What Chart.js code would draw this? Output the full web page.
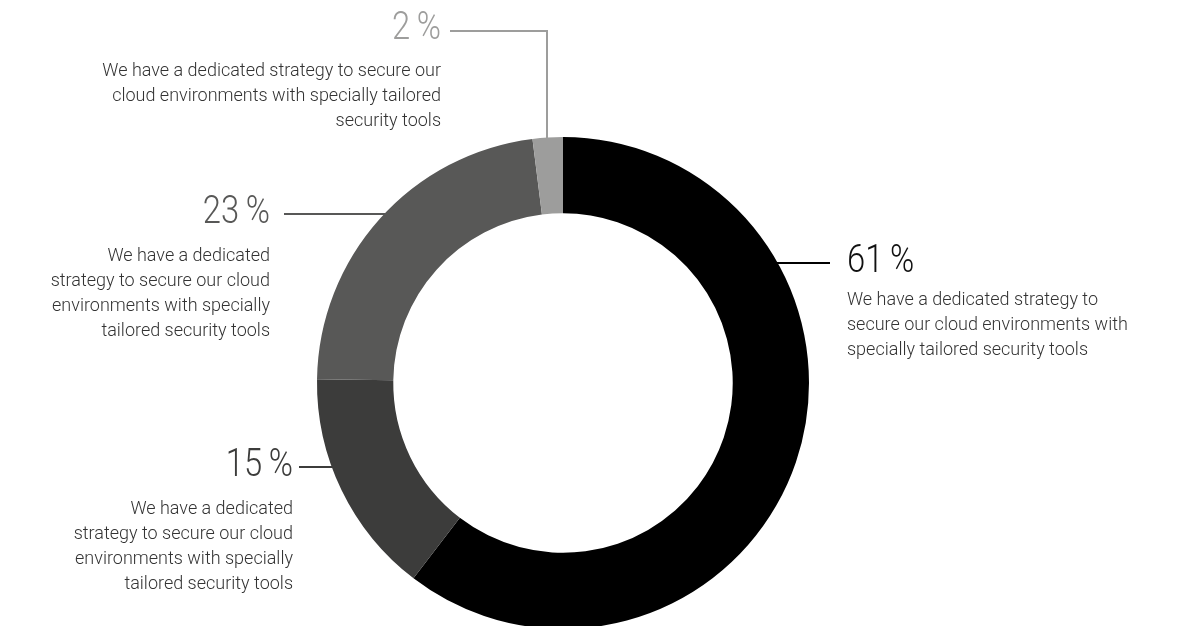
<!DOCTYPE html>
<html>
<head>
    <title>Cloud security strategy</title>
    <script src="https://cdn.jsdelivr.net/npm/chart.js"></script>
    <style>
        html, body { margin: 0; padding: 0; background: white; overflow: hidden; }
        #wrap { width: 1191px; height: 626px; overflow: hidden; }
        canvas { display: block; }
    </style>
</head>
<body>
    <div id="wrap">
        <canvas id="myChart" width="1191" height="660"></canvas>
    </div>

    <script>
        // Data (clockwise from 12 o'clock)
        const values = [61, 15, 23, 2];
        const descriptions = [
            ['We have a dedicated strategy to', 'secure our cloud environments with', 'specially tailored security tools'],
            ['We have a dedicated', 'strategy to secure our cloud', 'environments with specially', 'tailored security tools'],
            ['We have a dedicated', 'strategy to secure our cloud', 'environments with specially', 'tailored security tools'],
            ['We have a dedicated strategy to secure our', 'cloud environments with specially tailored', 'security tools']
        ];
        const colors = ['#000000', '#3c3c3b', '#585857', '#9d9d9c'];
        const pctColors = ['#111111', '#3c3c3b', '#585857', '#9d9d9c'];

        // Where each callout sits
        const callouts = [
            { align: 'left',  x: 847, pctY: 262, descY: 300, lineY: 263, lineEnd: 830 },
            { align: 'right', x: 293, pctY: 466, descY: 509, lineY: 467, lineEnd: 299 },
            { align: 'right', x: 270, pctY: 213, descY: 256, lineY: 214, lineEnd: 284 },
            { align: 'right', x: 441, pctY: 29,  descY: 71,  lineY: 31,  lineEnd: 450, dropX: 547 }
        ];

        const calloutPlugin = {
            id: 'callouts',
            afterDraw(chart) {
                const ctx = chart.ctx;
                const arcs = chart.getDatasetMeta(0).data;
                const cx = arcs[0].x, cy = arcs[0].y, R = arcs[0].outerRadius;
                ctx.save();
                callouts.forEach((c, i) => {
                    // leader line
                    ctx.strokeStyle = colors[i];
                    ctx.lineWidth = 2;
                    ctx.beginPath();
                    if (c.dropX !== undefined) {
                        const ry = cy - Math.sqrt(R * R - (c.dropX - cx) * (c.dropX - cx));
                        ctx.moveTo(c.lineEnd, c.lineY);
                        ctx.lineTo(c.dropX, c.lineY);
                        ctx.lineTo(c.dropX, ry + 1);
                    } else {
                        const dx = Math.sqrt(R * R - (c.lineY - cy) * (c.lineY - cy));
                        const rx = c.align === 'left' ? cx + dx - 1 : cx - dx + 1;
                        ctx.moveTo(rx, c.lineY);
                        ctx.lineTo(c.lineEnd, c.lineY);
                    }
                    ctx.stroke();

                    // percentage (condensed look)
                    ctx.save();
                    ctx.translate(c.x, c.pctY);
                    ctx.scale(0.84, 1);
                    ctx.font = '300 39px Roboto';
                    ctx.fillStyle = pctColors[i];
                    ctx.textAlign = c.align;
                    ctx.textBaseline = 'middle';
                    ctx.fillText(values[i] + '\u2009%', 0, 0);
                    ctx.restore();

                    // description
                    ctx.font = '300 18px Roboto';
                    ctx.fillStyle = '#333333';
                    ctx.textAlign = c.align;
                    ctx.textBaseline = 'middle';
                    descriptions[i].forEach((line, j) => {
                        ctx.fillText(line, c.x, c.descY + j * 25);
                    });
                });
                ctx.restore();
            }
        };

        const ctx = document.getElementById('myChart').getContext('2d');
        new Chart(ctx, {
            type: 'doughnut',
            data: {
                labels: values.map(v => v + ' %'),
                datasets: [{
                    data: values,
                    backgroundColor: colors,
                    borderWidth: 0
                }]
            },
            options: {
                responsive: false,
                animation: false,
                cutout: '69%',
                layout: { padding: { left: 317, right: 382, top: 137, bottom: 31 } },
                plugins: {
                    legend: { display: false },
                    tooltip: { enabled: false }
                }
            },
            plugins: [calloutPlugin]
        });
    </script>
</body>
</html>
